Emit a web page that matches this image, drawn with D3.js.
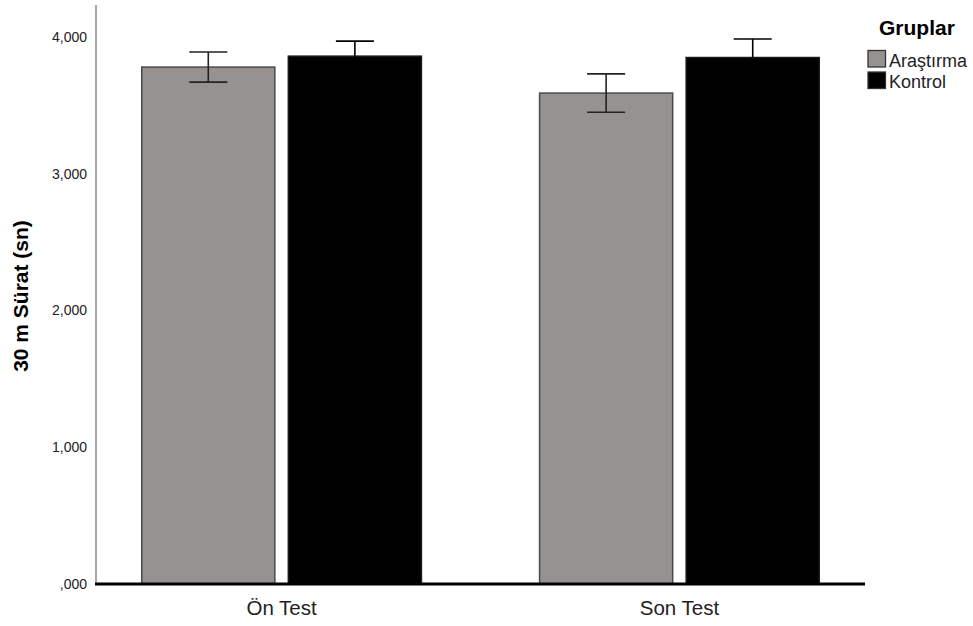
<!DOCTYPE html>
<html>
<head>
<meta charset="utf-8">
<script src="https://cdn.jsdelivr.net/npm/d3@7/dist/d3.min.js"></script>
<style>
  html, body { margin: 0; padding: 0; background: #fff; }
  svg { display: block; font-family: "Liberation Sans", Arial, sans-serif; }
</style>
</head>
<body>
<svg id="chart" width="973" height="626"></svg>
<script>
// Test moments on the x axis
const categories = ["Ön Test", "Son Test"];
// Group names (legend order)
const groups = ["Araştırma", "Kontrol"];
// Mean 30 m sprint times (sn) per group, one value per test moment
const arastirmaMeans = [3.78, 3.59];
const kontrolMeans = [3.86, 3.85];
// Error bar half-widths per group
const arastirmaErrors = [0.11, 0.14];
const kontrolErrors = [0.11, 0.135];
// Y axis ticks and their printed labels
const yTicks = [0, 1, 2, 3, 4];
const yTickLabels = [",000", "1,000", "2,000", "3,000", "4,000"];

const groupColors = { "Araştırma": "#969290", "Kontrol": "#000000" };
const groupStrokes = { "Araştırma": "#4a4a4a", "Kontrol": "#1a1a1a" };
const errorColors = { "Araştırma": "#222222", "Kontrol": "#000000" };

const rows = [];
categories.forEach((c, i) => {
  rows.push({ cat: c, group: groups[0], mean: arastirmaMeans[i], err: arastirmaErrors[i] });
  rows.push({ cat: c, group: groups[1], mean: kontrolMeans[i], err: kontrolErrors[i] });
});

const svg = d3.select("#chart");
const plot = { left: 96, right: 865, top: 5, bottom: 584 };

const y = d3.scaleLinear().domain([0, 4]).range([plot.bottom, 37]);
const x0 = d3.scaleBand().domain(categories)
  .range([plot.left, plot.right]).paddingInner(0.297).paddingOuter(0.115);
const x1 = d3.scaleBand().domain(groups)
  .range([0, x0.bandwidth()]).paddingInner(0.092);

// Vertical axis line
svg.append("line")
  .attr("x1", plot.left).attr("x2", plot.left)
  .attr("y1", plot.top).attr("y2", plot.bottom)
  .attr("stroke", "#a6a6a6").attr("stroke-width", 2);

// Y tick labels (no tick marks)
const yAxis = d3.axisLeft(y).tickValues(yTicks)
  .tickFormat((d, i) => yTickLabels[i]).tickSize(0).tickPadding(9);
const yg = svg.append("g").attr("transform", `translate(${plot.left},0)`).call(yAxis);
yg.select(".domain").remove();
yg.selectAll("text").attr("font-size", 14).attr("fill", "#222")
  .attr("font-family", "'Liberation Sans', Arial, sans-serif");

// Y axis title
svg.append("text")
  .attr("transform", "translate(28,296) rotate(-90)")
  .attr("text-anchor", "middle")
  .attr("font-size", 21).attr("font-weight", "bold").attr("fill", "#000")
  .text("30 m Sürat (sn)");

// Bars
const bars = svg.append("g");
bars.selectAll("rect").data(rows).join("rect")
  .attr("x", d => x0(d.cat) + x1(d.group))
  .attr("width", x1.bandwidth())
  .attr("y", d => y(d.mean))
  .attr("height", d => y(0) - y(d.mean))
  .attr("fill", d => groupColors[d.group])
  .attr("stroke", d => groupStrokes[d.group])
  .attr("stroke-width", 1.5);

// Error bars
const capHalf = 19;
const eb = svg.append("g").attr("stroke-width", 1.6).attr("fill", "none");
rows.forEach(d => {
  const cx = x0(d.cat) + x1(d.group) + x1.bandwidth() / 2;
  const yt = y(d.mean + d.err), yb = y(d.mean - d.err);
  const col = errorColors[d.group];
  eb.append("line").attr("stroke", col).attr("x1", cx).attr("x2", cx).attr("y1", yt).attr("y2", yb);
  eb.append("line").attr("stroke", col).attr("x1", cx - capHalf).attr("x2", cx + capHalf).attr("y1", yt).attr("y2", yt);
  eb.append("line").attr("stroke", col).attr("x1", cx - capHalf).attr("x2", cx + capHalf).attr("y1", yb).attr("y2", yb);
});

// Baseline (x axis)
svg.append("line")
  .attr("x1", plot.left - 1).attr("x2", plot.right)
  .attr("y1", y(0)).attr("y2", y(0))
  .attr("stroke", "#000").attr("stroke-width", 3.2);

// X category labels
svg.append("g").selectAll("text").data(categories).join("text")
  .attr("x", d => x0(d) + x0.bandwidth() / 2)
  .attr("y", 615)
  .attr("text-anchor", "middle")
  .attr("font-size", 20.5).attr("fill", "#222")
  .text(d => d);

// Legend
const legend = svg.append("g");
legend.append("text")
  .attr("x", 879).attr("y", 34.5)
  .attr("font-size", 21).attr("font-weight", "bold").attr("fill", "#000")
  .text("Gruplar");
groups.forEach((g, i) => {
  legend.append("rect")
    .attr("x", 868).attr("y", 50.5 + i * 21.5)
    .attr("width", 17.5).attr("height", 16.5)
    .attr("fill", groupColors[g]).attr("stroke", "#333").attr("stroke-width", 1.3);
  legend.append("text")
    .attr("x", 889).attr("y", 66.5 + i * 21.5)
    .attr("font-size", 18).attr("fill", "#222")
    .text(g);
});
</script>
</body>
</html>
